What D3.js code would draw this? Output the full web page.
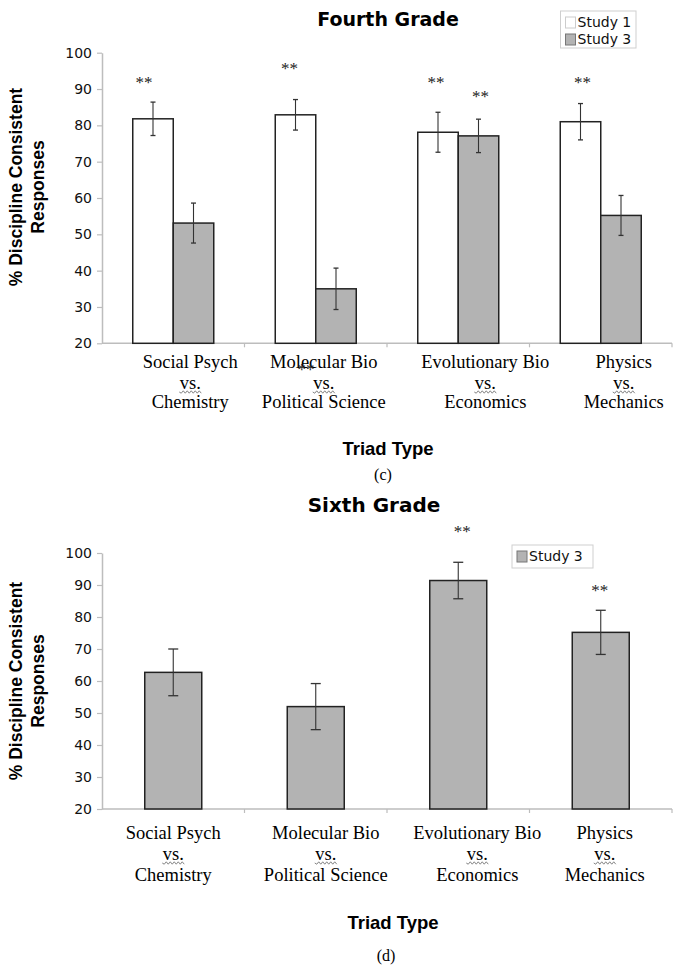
<!DOCTYPE html>
<html><head><meta charset="utf-8">
<script src="https://cdn.jsdelivr.net/npm/d3@7"></script>
<style>body{margin:0;background:#fff}</style>
</head><body><svg id="c" width="681" height="970"></svg>
<script>
// ---------- data ----------
const catLine1 = ["Social Psych", "Molecular Bio", "Evolutionary Bio", "Physics"];
const catLine2 = ["vs.", "vs.", "vs.", "vs."];
const catLine3 = ["Chemistry", "Political Science", "Economics", "Mechanics"];
const seriesTop = ["Study 1", "Study 3"];
const seriesBottom = ["Study 3"];
const study1Fourth = [81.8, 82.9, 78.1, 81.0];
const study1FourthErr = [4.6, 4.2, 5.5, 5.0];
const study3Fourth = [53.1, 35.0, 77.1, 55.2];
const study3FourthErr = [5.5, 5.7, 4.6, 5.5];
const study3Sixth = [62.7, 52.0, 91.4, 75.2];
const study3SixthErr = [7.3, 7.2, 5.7, 6.9];
const yTicks = [20, 30, 40, 50, 60, 70, 80, 90, 100];
const sigFourthStudy1 = [true, true, true, true];
const sigFourthStudy3 = [false, false, true, false];
const sigSixth = [false, false, true, true];

// ---------- layout / styles ----------
const svg = d3.select("#c");
const serif = "'Liberation Serif','Times New Roman',serif";
const verdana = "'DejaVu Sans',Verdana,sans-serif";
const arial = "'Liberation Sans',Arial,sans-serif";
const GRAY = "#b3b3b3", EDGE = "#222", AXIS = "#bdbdbd";

function wavy(g, cx, y) {
  let d = "M" + (cx - 11) + "," + y;
  for (let i = 0, x = cx - 11; x < cx + 11; i++) { x += 2; d += "L" + x + "," + (y + (i % 2 ? -1.2 : 1.2)); }
  g.append("path").attr("d", d).attr("fill", "none").attr("stroke", "#666").attr("stroke-width", 0.8);
}

function panel(o) {
  const g = svg.append("g");
  const y = d3.scaleLinear().domain([20, 100]).range(o.yRange);
  const x = d3.scaleBand().domain(catLine1).range([102, 672]);
  const xs = d3.scaleBand().domain(o.series).range([-o.halfW, o.halfW]);
  const cx = i => x(catLine1[i]) + x.bandwidth() / 2;

  // title
  g.append("text").attr("x", o.titleX).attr("y", o.titleY).attr("text-anchor", "middle")
    .attr("font-family", verdana).attr("font-weight", "bold").attr("font-size", o.titleSize).attr("fill", "#000").text(o.title);

  // y axis
  const ax = g.append("g").attr("transform", "translate(102,0)")
    .call(d3.axisLeft(y).tickValues(yTicks).tickSize(5).tickPadding(5).tickSizeOuter(0));
  ax.select(".domain").attr("stroke", AXIS).attr("stroke-width", 1.5);
  ax.selectAll(".tick line").attr("stroke", AXIS).attr("stroke-width", 1.2);
  ax.selectAll(".tick text").attr("font-family", verdana).attr("font-size", 14).attr("fill", "#111");

  // baseline + category ticks
  g.append("line").attr("x1", 102).attr("x2", 672).attr("y1", y(20)).attr("y2", y(20))
    .attr("stroke", AXIS).attr("stroke-width", 1.5);
  catLine1.slice(1).concat(["end"]).forEach((c, i) => {
    const xx = c === "end" ? 672 : x(c);
    g.append("line").attr("x1", xx).attr("x2", xx).attr("y1", y(20)).attr("y2", y(20) + 4)
      .attr("stroke", AXIS).attr("stroke-width", 1.2);
  });

  // bars
  o.data.forEach((s, si) => {
    s.values.forEach((v, i) => {
      const bx = cx(i) + xs(s.name);
      g.append("rect").attr("x", bx).attr("y", y(v)).attr("width", xs.bandwidth()).attr("height", y(20) - y(v))
        .attr("fill", s.fill).attr("stroke", EDGE).attr("stroke-width", 1.5);
    });
  });
  // error bars
  o.data.forEach(s => {
    s.values.forEach((v, i) => {
      const mx = cx(i) + xs(s.name) + xs.bandwidth() / 2;
      const e = s.err[i];
      g.append("line").attr("x1", mx).attr("x2", mx).attr("y1", y(v + e)).attr("y2", y(v - e)).attr("stroke", "#333").attr("stroke-width", 1.1);
      [v + e, v - e].forEach(w => g.append("line").attr("x1", mx - o.cap).attr("x2", mx + o.cap).attr("y1", y(w)).attr("y2", y(w)).attr("stroke", "#333").attr("stroke-width", 1.3));
      if (s.sig[i]) {
        g.append("text").attr("x", mx + s.starDx[i]).attr("y", y(s.starAt[i]) + 9).attr("text-anchor", "middle")
          .attr("font-family", serif).attr("font-size", 17).attr("fill", "#222").text("**");
      }
    });
  });

  // category labels
  catLine1.forEach((c, i) => {
    const lx = cx(i) + o.labelShift[i];
    [catLine1[i], catLine2[i], catLine3[i]].forEach((t, k) => {
      g.append("text").attr("x", lx).attr("y", o.labelY[k]).attr("text-anchor", "middle")
        .attr("font-family", serif).attr("font-size", 18.5).attr("fill", "#000").text(t);
    });
    wavy(g, lx, o.labelY[1] + 3);
  });

  // axis titles
  g.append("text").attr("x", o.xTitleX).attr("y", o.xTitleY).attr("text-anchor", "middle")
    .attr("font-family", arial).attr("font-weight", "bold").attr("font-size", 18.5).attr("fill", "#000").text("Triad Type");
  const yt = g.append("text").attr("transform", `translate(0,${o.yTitleC}) rotate(-90)`).attr("text-anchor", "middle")
    .attr("font-family", arial).attr("font-weight", "bold").attr("font-size", 17.5).attr("fill", "#000");
  yt.append("tspan").attr("x", 0).attr("y", 22).text("% Discipline Consistent");
  yt.append("tspan").attr("x", 0).attr("y", 44).text("Responses");
  g.append("text").attr("x", o.capX).attr("y", o.capY).attr("text-anchor", "middle")
    .attr("font-family", serif).attr("font-size", 16).attr("fill", "#000").text(o.caption);

  // legend
  const L = o.legend;
  g.append("rect").attr("x", L.x).attr("y", L.y).attr("width", L.w).attr("height", L.h)
    .attr("fill", "#fff").attr("stroke", "#cfcfcf").attr("stroke-width", 1);
  o.data.forEach((s, k) => {
    g.append("rect").attr("x", L.x + 5).attr("y", L.y + 6 + k * 17).attr("width", 10).attr("height", 11)
      .attr("fill", s.fill).attr("stroke", s.fill === "#fff" ? "#ccc" : "#777").attr("stroke-width", 1);
    g.append("text").attr("x", L.x + 17).attr("y", L.y + 16 + k * 17).attr("font-family", verdana)
      .attr("font-size", 14).attr("fill", "#111").text(s.name);
  });
  return {g, y, x};
}

const top4 = panel({
  title: "Fourth Grade", titleX: 388, titleY: 26, titleSize: 19,
  yRange: [343.3, 52.7], halfW: 40.5, cap: 2.5,
  series: seriesTop,
  data: [
    {name: "Study 1", values: study1Fourth, err: study1FourthErr, fill: "#fff", sig: sigFourthStudy1,
     starAt: [92.7, 96.6, 92.7, 92.7], starDx: [-9, -6, -2, 2]},
    {name: "Study 3", values: study3Fourth, err: study3FourthErr, fill: GRAY, sig: sigFourthStudy3,
     starAt: [0, 0, 88.9, 0], starDx: [0, 0, 2, 0]}
  ],
  labelShift: [17, 8, 27, 23], labelY: [368, 389, 408],
  xTitleX: 388, xTitleY: 455, yTitleC: 187, capX: 383, capY: 480, caption: "(c)",
  legend: {x: 560.5, y: 11, w: 75.5, h: 37}
});
// stray marker printed over the Molecular Bio label in the original
top4.g.append("text").attr("x", 306).attr("y", 375).attr("text-anchor", "middle")
  .attr("font-family", serif).attr("font-size", 17).attr("fill", "#222").text("**");

panel({
  title: "Sixth Grade", titleX: 374, titleY: 512, titleSize: 20,
  yRange: [809, 553], halfW: 28.5, cap: 5,
  series: seriesBottom,
  data: [
    {name: "Study 3", values: study3Sixth, err: study3SixthErr, fill: GRAY, sig: sigSixth,
     starAt: [0, 0, 107.9, 89.4], starDx: [0, 0, 4, -1]}
  ],
  labelShift: [0, 10, 19, 4], labelY: [839, 860, 881],
  xTitleX: 393, xTitleY: 929, yTitleC: 681, capX: 386, capY: 961, caption: "(d)",
  legend: {x: 512, y: 545, w: 81, h: 23}
});
</script></body></html>
